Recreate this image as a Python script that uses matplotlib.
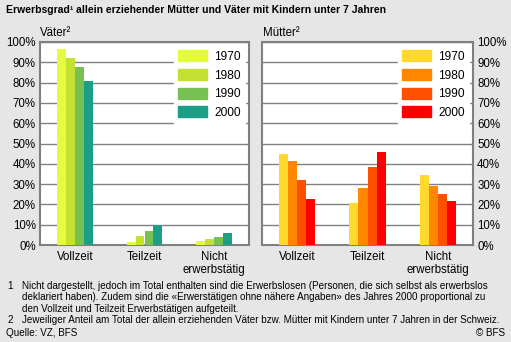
import numpy as np
import matplotlib.pyplot as plt
from matplotlib.patches import Patch

plt.rcParams['font.family'] = ['Liberation Sans', 'DejaVu Sans']

# Daten (Anteile in %)
kategorien = ['Vollzeit', 'Teilzeit', 'Nicht\nerwerbstätig']
jahre = ['1970', '1980', '1990', '2000']
vaeter = {
    '1970': [96.5, 1.6, 2.1],
    '1980': [92.0, 4.4, 3.1],
    '1990': [87.7, 6.9, 4.1],
    '2000': [80.8, 9.7, 6.1],
}
muetter = {
    '1970': [44.8, 20.7, 34.5],
    '1980': [41.4, 28.1, 29.1],
    '1990': [32.0, 38.4, 25.1],
    '2000': [22.7, 45.8, 21.7],
}
farben_v = ['#e4fc3c', '#c3e033', '#76c152', '#1c9e87']
farben_m = ['#ffd92e', '#ff8800', '#ff5000', '#ff0000']

bg = '#e6e6e6'
grau = '#808080'

fig = plt.figure(figsize=(5.11, 3.42), dpi=100, facecolor=bg)
ax1 = fig.add_axes([40/511, 97/342, 209/511, 203/342])
ax2 = fig.add_axes([262/511, 97/342, 211/511, 203/342])

x = np.arange(len(kategorien))
w = 0.129


def panel(ax, daten, farben, rechts):
    for i, j in enumerate(jahre):
        ax.bar(x + (i - 1.5) * w, daten[j], width=w, color=farben[i], zorder=3)
    ax.set_xlim(-0.5, 2.5)
    ax.set_ylim(0, 100)
    ax.set_yticks(np.arange(0, 101, 10))
    ax.set_yticklabels([f'{v}%' for v in range(0, 101, 10)])
    ax.yaxis.grid(True, color=grau, linewidth=1, zorder=1)
    ax.set_xticks(x)
    ax.set_xticklabels(kategorien, linespacing=1.2)
    ax.tick_params(axis='both', length=0, labelsize=8.3, colors='black', pad=3)
    ax.tick_params(axis='x', pad=4)
    if rechts:
        ax.yaxis.tick_right()
    for s in ax.spines.values():
        s.set_color(grau)
        s.set_linewidth(1.5)
    handles = [Patch(color=farben[i], label=j) for i, j in enumerate(jahre)]
    leg = ax.legend(handles=handles, loc='upper right', fontsize=8.6,
                    frameon=True, facecolor='white', edgecolor='white',
                    framealpha=1, fancybox=False, handlelength=2.4,
                    handleheight=1.05, labelspacing=0.5, handletextpad=0.6,
                    borderaxespad=0.3, borderpad=0.4)
    leg.set_zorder(5)


panel(ax1, vaeter, farben_v, False)
panel(ax2, muetter, farben_m, True)

fig.text(6/511, 1 - 10/342, 'Erwerbsgrad¹ allein erziehender Mütter und Väter mit Kindern unter 7 Jahren',
         fontsize=7.5, fontweight='bold', va='center', ha='left')
fig.text(40/511, 1 - 33/342, 'Väter²', fontsize=8.3, va='center', ha='left')
fig.text(263/511, 1 - 33/342, 'Mütter²', fontsize=8.3, va='center', ha='left')

fs = 7.1
fig.text(7/511, 1 - 286/342, '1', fontsize=fs, va='center')
fig.text(22/511, 1 - 286/342, 'Nicht dargestellt, jedoch im Total enthalten sind die Erwerbslosen '
         '(Personen, die sich selbst als erwerbslos', fontsize=fs, va='center')
fig.text(22/511, 1 - 297.5/342, 'deklariert haben). Zudem sind die «Erwerstätigen ohne nähere Angaben» '
         'des Jahres 2000 proportional zu', fontsize=fs, va='center')
fig.text(22/511, 1 - 308.5/342, 'den Vollzeit und Teilzeit Erwerbstätigen aufgeteilt.',
         fontsize=fs, va='center')
fig.text(7/511, 1 - 320/342, '2', fontsize=fs, va='center')
fig.text(22/511, 1 - 320/342, 'Jeweiliger Anteil am Total der allein erziehenden Väter bzw. Mütter '
         'mit Kindern unter 7 Jahren in der Schweiz.', fontsize=fs, va='center')
fig.text(6/511, 1 - 333/342, 'Quelle: VZ, BFS', fontsize=fs, va='center')
fig.text(505/511, 1 - 333/342, '© BFS', fontsize=fs, va='center', ha='right')

fig.savefig('out.png', dpi=100, facecolor=bg)
